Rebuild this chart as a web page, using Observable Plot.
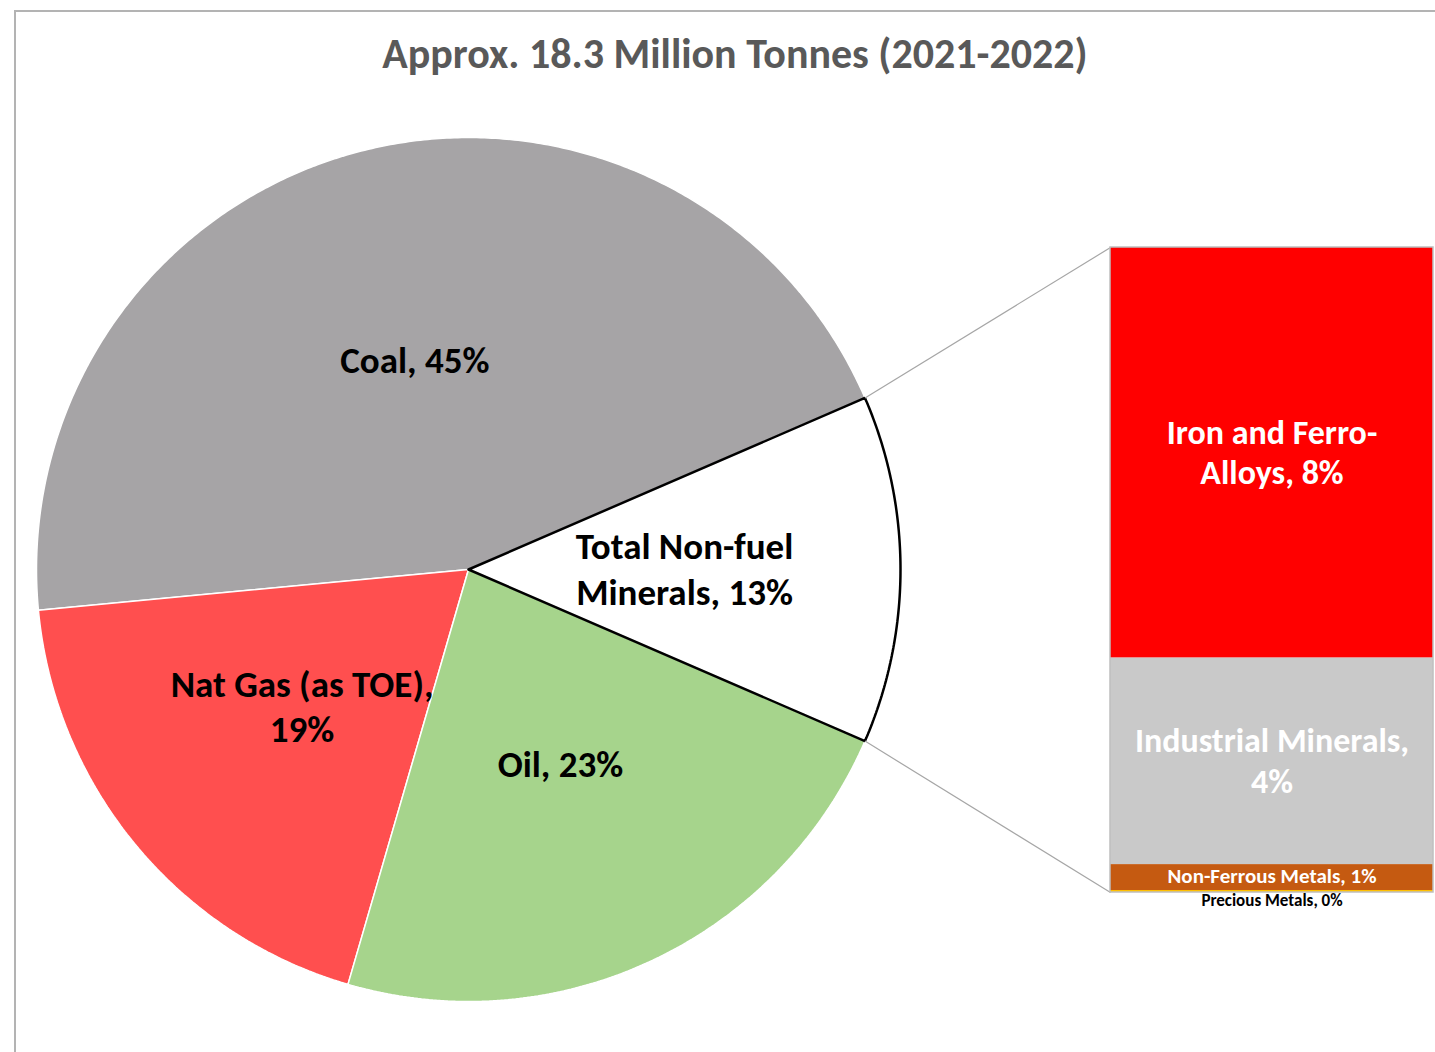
<!DOCTYPE html>
<html><head><meta charset="utf-8">
<script src="https://cdn.jsdelivr.net/npm/d3@7"></script>
<script src="https://cdn.jsdelivr.net/npm/@observablehq/plot@0.6"></script>
<style>
body{margin:0;background:#fff;}
#wrap{position:relative;width:1435px;height:1052px;overflow:hidden;font-family:Carlito,Calibri,Lato,sans-serif;}
#frame{position:absolute;left:14px;top:10px;width:1460px;height:1100px;border-top:2px solid #b3b3b3;border-left:2px solid #b3b3b3;box-sizing:border-box;}
#title{position:absolute;left:0;width:1470px;top:29px;text-align:center;font-size:42px;font-weight:700;color:#595959;line-height:50px;}
#chart{position:absolute;left:0;top:0;}
</style></head>
<body>
<div id="wrap"><div id="frame"></div><div id="chart"></div><div id="title">Approx. 18.3 Million Tonnes (2021-2022)</div></div>
<script>
// ---- data ----
const pieCategories = ["Coal", "Nat Gas (as TOE)", "Oil", "Total Non-fuel Minerals"];
const pieValues = [45, 19, 23, 13];
const pieLabels = ["Coal, 45%", "Nat Gas (as TOE),\n19%", "Oil, 23%", "Total Non-fuel\nMinerals, 13%"];
const barCategories = ["Iron and Ferro-Alloys", "Industrial Minerals", "Non-Ferrous Metals", "Precious Metals"];
const barValues = [8.25, 4.15, 0.52, 0.04];
const barLabels = ["Iron and Ferro-\nAlloys, 8%", "Industrial Minerals,\n4%", "Non-Ferrous Metals, 1%", "Precious Metals, 0%"];

// ---- styles ----
const pieColors = ["#a6a4a6", "#ff4f4f", "#a6d48c", "#ffffff"];
const barColors = ["#ff0000", "#c9c9c9", "#c55a11", "#ffc000"];
const font = "Carlito, Calibri, Lato, sans-serif";

// ---- layout ----
const W = 1435, H = 1052;
const cx = 468, cy = 569, R = 432;
const barX0 = 1110, barX1 = 1433, barTop = 247, barH = 645;

const total = d3.sum(pieValues);
const rad = d => d * Math.PI / 180;
const pt = (deg, r) => ({x: cx + r * Math.cos(rad(deg)), y: cy - r * Math.sin(rad(deg))});

let acc = pieValues[pieValues.length - 1] / total * 180;
const slices = pieCategories.map((c, i) => {
  const a0 = acc, a1 = acc + pieValues[i] / total * 360; acc = a1;
  const pts = [pt(0, 0)];
  const n = Math.max(2, Math.ceil((a1 - a0) * 2));
  for (let k = 0; k <= n; k++) pts.push(pt(a0 + (a1 - a0) * k / n, R));
  pts.push(pt(0, 0));
  const mid = (a0 + a1) / 2;
  return {c, a0, a1, pts, label: pieLabels[i], color: pieColors[i], lp: pt(mid, R * 0.5)};
});

const barTotal = d3.sum(barValues);
const pxPer = barH / barTotal;
let bacc = 0;
const segs = barCategories.map((c, i) => {
  const y1 = barTop + bacc * pxPer; bacc += barValues[i];
  const y2 = barTop + bacc * pxPer;
  return {c, y1, y2, ym: (y1 + y2) / 2, label: barLabels[i], color: barColors[i], i};
});
const barBottom = barTop + barH;

const nf = slices[3];
const pUp = pt(nf.a1, R), pDown = pt(nf.a0, R);
const connectors = [
  {x1: pUp.x, y1: pUp.y, x2: barX0, y2: barTop},
  {x1: pDown.x, y1: pDown.y, x2: barX0, y2: barBottom}
];

const pieMarks = slices.map((s, i) => Plot.line(s.pts, {
  x: "x", y: "y", fill: s.color,
  stroke: i === 3 ? "#000" : "#fff",
  strokeWidth: i === 3 ? 2.5 : 1.5, strokeLinejoin: "miter"
}));

const pieText = slices.map(s => ({x: s.lp.x, y: s.lp.y, label: s.label}));

const chart = Plot.plot({
  width: W, height: H,
  margin: 0,
  x: {domain: [0, W], range: [0, W], axis: null},
  y: {domain: [0, H], range: [0, H], axis: null},
  style: {background: "transparent", fontFamily: font},
  marks: [
    ...pieMarks,
    Plot.link(connectors, {x1: "x1", y1: "y1", x2: "x2", y2: "y2", stroke: "#a6a6a6", strokeWidth: 1.2}),
    Plot.rect(segs, {x1: barX0, x2: barX1, y1: "y1", y2: "y2", fill: "color"}),
    Plot.rect([0], {x1: barX0, x2: barX1, y1: barTop, y2: barBottom, fill: "none", stroke: "#bfbfbf", strokeWidth: 1.5}),
    Plot.text(pieText, {x: "x", y: "y", dy: -2, text: "label", fill: "#000", fontSize: 37, fontWeight: 700, lineHeight: 1.22, fontFamily: font}),
    Plot.text(segs.slice(0, 2), {x: (barX0 + barX1) / 2, y: "ym", dy: -2, text: "label", fill: "#fff", fontSize: 34, fontWeight: 700, lineHeight: 1.19, fontFamily: font}),
    Plot.text(segs.slice(2, 3), {x: (barX0 + barX1) / 2, y: "ym", dy: -1, text: "label", fill: "#fff", fontSize: 21, fontWeight: 700, fontFamily: font}),
    Plot.text(segs.slice(3, 4), {x: (barX0 + barX1) / 2, y: "y2", dy: 8, text: "label", fill: "#000", fontSize: 17, fontWeight: 700, fontFamily: font})
  ]
});
document.getElementById("chart").appendChild(chart);
</script>
</body></html>
